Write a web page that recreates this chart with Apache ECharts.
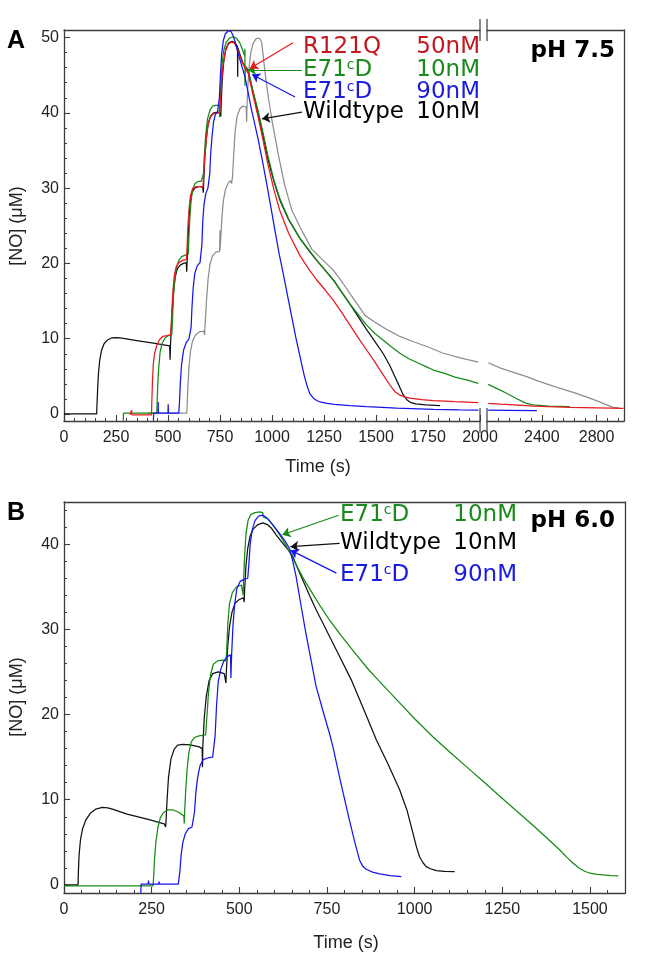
<!DOCTYPE html>
<html><head><meta charset="utf-8">
<script src="https://cdn.jsdelivr.net/npm/echarts@6/dist/echarts.min.js"></script>
<style>html,body{margin:0;padding:0;background:#fff}#c{width:654px;height:958px}</style>
</head><body><div id="c"></div>
<script>
// ---------------- DATA: panel A (pH 7.5) [time s, NO µM] ----------------
const aBlack = [[0,0],[157,0],[159,1.5],[162,3.5],[166,5.5],[172,7.2],[180,8.4],[192,9.3],[208,9.8],[228,10.1],[250,10.15],[270,10.1],[350,9.75],[430,9.4],[508,9.05],[510,7.2],[512,9.2],[516,11.5],[521,14],[527,16.3],[535,18.2],[545,19.3],[560,19.8],[575,20],[588,20.1],[590,18.9],[592,20.3],[596,23],[601,26],[607,28.2],[615,29.4],[628,30],[645,30.2],[666,30.2],[670,29.4],[672,31],[677,34],[684,36.6],[693,38.6],[705,39.6],[720,40],[740,40.1],[752,40],[754,39.5],[756,41.5],[761,44.5],[768,46.8],[778,48.5],[792,49.3],[808,49.5],[822,49.3],[834,48.8],[835,44.8],[836,48.6],[848,47.6],[862,46.5],[878,45.9],[886,45.5],[905,43.2],[933,40],[955,37.2],[981,33.8],[1010,30.8],[1038,28.4],[1080,25.8],[1135,23.3],[1180,21.6],[1215,20.4],[1255,19.1],[1295,17.8],[1335,16.2],[1375,14.6],[1415,12.9],[1455,11.2],[1495,9.6],[1535,8.0],[1565,6.5],[1590,5.0],[1612,3.7],[1630,2.6],[1648,1.9],[1665,1.55],[1690,1.35],[1740,1.2],[1808,1.1]];
const aRed = [[317,-0.1],[325,-0.1],[325,0.5],[326,-0.1],[421,-0.1],[422,1.5],[425,4],[429,6.5],[435,8],[446,9.1],[460,9.9],[475,10.3],[495,10.4],[512,10.5],[515,11.5],[519,14],[524,16.5],[531,18.5],[540,19.6],[552,20.1],[570,20.4],[588,20.5],[591,21.5],[595,24.5],[601,27.2],[608,29],[618,29.9],[635,30.2],[655,30.2],[668,30.1],[671,31.5],[676,34],[683,36.2],[692,38.3],[703,39.4],[718,39.9],[738,40],[748,40],[752,41.5],[758,44.3],[766,46.6],[776,48.2],[790,49.1],[805,49.4],[818,49.3],[830,48.7],[845,47.6],[858,46.6],[870,46],[886,45.2],[905,42.8],[933,39.5],[955,36.6],[981,33.1],[1010,29.7],[1038,27],[1080,24],[1135,21],[1180,19.1],[1215,17.8],[1255,16.5],[1295,15.1],[1335,13.5],[1375,11.8],[1415,10.1],[1455,8.5],[1495,6.9],[1530,5.4],[1567,3.85],[1590,3.0],[1615,2.5],[1640,2.25],[1663,2.1],[1720,1.9],[1776,1.77],[1880,1.63],[1992,1.5],[2009,1.42],[2100,1.3],[2200,1.2],[2339,1.06],[2450,0.98],[2609,0.89],[2800,0.82],[2996,0.76]];
const aGreen = [[285,-0.9],[286,0.1],[446,0.1],[448,1.8],[451,4],[455,6],[462,8.2],[472,9.4],[486,10.1],[500,10.4],[518,10.5],[521,12],[525,15],[531,17.6],[540,19.3],[552,20.4],[566,20.9],[582,21.1],[597,21.2],[600,23],[604,25.5],[610,28],[618,29.8],[630,30.6],[646,30.9],[660,30.9],[668,30.8],[671,32],[675,34.5],[681,37],[690,39.2],[702,40.4],[715,40.9],[730,41],[747,41],[748,39.4],[750,41],[754,43.5],[760,46.5],[768,48.3],[780,49.4],[795,49.9],[814,50.1],[830,49.9],[845,49.3],[858,48.4],[868,47.6],[870,48.5],[870,43.6],[872,46.2],[886,45.7],[905,43.3],[933,40.3],[955,37.6],[981,34.2],[1010,31],[1038,28.6],[1080,25.9],[1135,23.3],[1180,21.7],[1215,20.4],[1255,19.1],[1295,17.8],[1335,16.2],[1375,14.6],[1415,13.2],[1455,11.8],[1495,10.7],[1535,9.8],[1575,8.9],[1615,8.06],[1660,7.3],[1700,6.8],[1740,6.3],[1776,5.84],[1830,5.4],[1880,4.9],[1940,4.5],[1992,4.07],[2009,3.94],[2070,3.4],[2143,2.75],[2210,2.1],[2260,1.65],[2288,1.42],[2337,1.2],[2450,1.05],[2604,0.97]];
const aBlue = [[430,-0.9],[431,0.1],[452,0.1],[453,1.6],[454,0.1],[500,0.1],[501,1.3],[502,0.1],[552,0.1],[555,1.5],[559,4],[565,6.5],[575,8.5],[588,9.5],[600,9.9],[608,10],[611,11.5],[615,14],[621,16.7],[629,18.7],[641,19.7],[654,20.1],[660,20.1],[663,22.5],[667,25.5],[673,27.8],[682,29.3],[692,30],[698,30.1],[701,32],[705,34.5],[711,36.6],[719,38.8],[728,39.8],[738,40.1],[744,40.2],[747,42],[752,45],[758,47.8],[766,49.6],[776,50.5],[790,50.9],[803,50.8],[814,50.2],[825,49.2],[840,47.6],[855,46.2],[870,44.8],[885,42.7],[900,40.6],[918,38.4],[934,36.4],[955,33.5],[975,30.5],[995,27.4],[1014,24.4],[1035,21.2],[1055,18.5],[1075,15.7],[1095,12.9],[1115,10.1],[1135,7.6],[1155,5.1],[1170,3.6],[1182,2.7],[1199,2.1],[1215,1.8],[1231,1.6],[1265,1.4],[1300,1.27],[1375,1.1],[1455,0.97],[1600,0.78],[1776,0.62],[1900,0.56],[1992,0.53],[2009,0.5],[2150,0.47],[2364,0.44]];
const aGray = [[400,0.1],[590,0.1],[592,1.2],[596,3.8],[601,6.3],[608,8.3],[618,9.7],[632,10.5],[650,10.9],[672,11],[676,10.5],[677,11.3],[681,13],[686,15.5],[693,18],[702,19.9],[714,21],[730,21.5],[748,21.6],[750,24.4],[750,21.8],[754,23.5],[759,26],[766,28.3],[776,29.8],[790,30.7],[800,31],[806,30.6],[810,31.5],[815,34],[822,37.3],[832,39.5],[845,40.5],[860,40.9],[876,40.8],[878,38.8],[880,41],[884,43.5],[890,46],[898,48],[910,49.3],[925,49.9],[940,49.9],[950,49.4],[958,47.5],[966,45.5],[982,42.1],[1000,39],[1030,34.5],[1060,30.5],[1095,27.1],[1135,24.8],[1191,21.9],[1250,20.3],[1295,19.1],[1340,17.4],[1395,15.2],[1447,13.1],[1500,12.1],[1560,11.1],[1615,10.3],[1680,9.6],[1751,8.9],[1820,8.1],[1900,7.5],[1992,6.9],[2009,6.8],[2100,6.1],[2216,5.4],[2300,4.9],[2385,4.3],[2500,3.6],[2652,2.75],[2780,1.9],[2919,0.89],[2960,0.85]];

// ---------------- DATA: panel B (pH 6.0) ----------------
const bBlack = [[0,0],[40,0],[41,1.5],[43,3.5],[47,5.3],[53,6.6],[62,7.6],[75,8.4],[91,8.9],[109,9.1],[125,9.05],[138,8.9],[180,8.3],[240,7.7],[286,7.16],[290,6.8],[291,7.5],[294,10],[298,12.6],[305,14.8],[314,15.9],[324,16.4],[340,16.5],[360,16.45],[386,16.2],[394,16.0],[395,13.8],[396,16.4],[400,19.6],[406,22.2],[414,24],[424,24.8],[440,25],[457,24.8],[461,24.6],[462,23.7],[463,25],[467,28],[472,30.3],[479,32],[488,33.1],[500,33.5],[512,33.7],[514,33.2],[515,34.5],[519,37.5],[524,39.5],[531,41],[540,41.8],[553,42.3],[567,42.5],[580,42.3],[591,41.9],[605,41.1],[624,40.1],[640,39.3],[652,38.6],[666,37.2],[681,35.8],[700,34],[719,32.3],[740,30.6],[757,29.2],[790,26.5],[819,24.1],[855,20.6],[891,17],[925,14.1],[957,11.2],[978,8.8],[995,6.1],[1005,4.5],[1014,3.3],[1024,2.6],[1033,2.15],[1045,1.9],[1062,1.68],[1085,1.6],[1114,1.56]];
const bGreen = [[0,-0.1],[254,-0.1],[256,1.2],[258,3],[262,5],[268,6.8],[275,7.9],[284,8.5],[296,8.8],[312,8.8],[328,8.5],[342,8.1],[343,7.2],[344,8.5],[347,11],[351,13.5],[356,15.5],[363,16.8],[372,17.3],[385,17.5],[404,17.6],[406,17.6],[408,20],[412,22.5],[418,24.7],[426,25.9],[438,26.3],[452,26.4],[462,26.3],[464,27.5],[467,30.5],[472,33],[480,34.3],[492,35],[506,35.2],[510,35.2],[511,34],[512,35.5],[515,38.5],[519,41.2],[525,42.8],[533,43.5],[545,43.7],[558,43.8],[567,43.7],[568,43.2],[580,43],[595,42.3],[610,41.4],[624,40.5],[643,39.1],[662,37.6],[685,35.8],[709,34.2],[733,32.6],[757,31.1],[790,29.3],[830,27.2],[870,25.2],[895,24.1],[950,21.7],[1000,19.5],[1052,17.4],[1100,15.6],[1150,13.8],[1200,12],[1243,10.4],[1290,8.7],[1335,7.1],[1375,5.6],[1414,4.1],[1435,3.2],[1452,2.55],[1470,1.95],[1485,1.6],[1500,1.37],[1520,1.25],[1538,1.17],[1560,1.1],[1581,1.06]];
const bBlue = [[219,-0.95],[220,0.1],[240,0.1],[241,0.5],[242,0.1],[270,0.1],[271,0.4],[272,0.1],[326,0.1],[329,0.1],[331,1.8],[334,3.5],[339,5],[346,6],[355,6.6],[365,6.8],[370,6.9],[372,8.5],[376,10.8],[381,12.6],[388,14],[397,14.7],[410,14.9],[424,15],[429,15],[431,17.5],[435,21],[440,23.9],[447,25.3],[455,26.2],[465,26.8],[475,27],[476,24.3],[478,27],[482,30.5],[487,33],[493,34.8],[502,35.6],[514,35.9],[524,36],[527,37.5],[531,40],[537,41.7],[545,42.8],[555,43.3],[567,43.4],[575,43.2],[581,43.0],[595,42.3],[614,41.3],[630,40.4],[643,39.5],[652,38.1],[662,36.2],[676,32.8],[690,29.5],[705,26.3],[719,23.3],[738,20.5],[757,17.8],[767,16.2],[790,11.9],[814,7.6],[830,4.9],[843,2.9],[852,2.2],[862,1.84],[880,1.5],[900,1.3],[930,1.1],[962,0.97]];

// ---------------- axes ticks / labels ----------------
const xTicksA1 = [0,250,500,750,1000,1250,1500,1750,2000];
const xTicksA2 = [2400,2800];
const yTicksA = [0,10,20,30,40,50];
const xTicksB = [0,250,500,750,1000,1250,1500];
const yTicksB = [0,10,20,30,40];

// ---------------- annotation texts and arrows ----------------
const namesA = ['R121Q','E71{s|c}D','E71{s|c}D','Wildtype'];
const concA = ['50nM','10nM','90nM','10nM'];
const namesB = ['E71{s|c}D','Wildtype','E71{s|c}D'];
const concB = ['10nM','10nM','90nM'];
// arrows [x from, y from, x to, y to] in data units
const arrowRedA = [1101,49.3,894,45.9];
const arrowGreenA = [1144,45.7,885,45.7];
const arrowBlueA = [1111,42.1,904,45.1];
const arrowBlackA = [1144,40.1,952,39.2];
const arrowGreenB = [783,43.4,623,41.1];
const arrowBlackB = [786,40.1,646,39.7];
const arrowBlueB = [777,36.6,646,39.3];

// ---------------- styling ----------------
const C = {red:'#e8191e', green:'#158a15', blue:'#1515f0', black:'#111', gray:'#8e8e8e'};
const TXT = {red:'#c3161d', green:'#1a8a1a', blue:'#1a1ae0', black:'#000'};
const AX = '#3c3c3c';
const FA = '"Liberation Sans", Arial, Helvetica, sans-serif';
const FL = '"DejaVu Sans", Verdana, sans-serif';

function minors(lo, hi, step, majors) {
  const out = [];
  for (let v = lo; v <= hi + 1e-9; v += step) {
    const r = Math.round(v * 1000) / 1000;
    if (!majors.some(m => Math.abs(m - r) < 1e-6)) out.push(r);
  }
  return out;
}
const seg1 = d => d.filter(p => p[0] <= 2000);
const seg2 = d => d.filter(p => p[0] >= 2000);
const fmt = v => String(v);

const lineOnly = (extra) => Object.assign({
  type: 'value', axisLine: {show: true, onZero: false, lineStyle: {color: AX, width: 1.3}},
  axisTick: {show: false}, axisLabel: {show: false}, splitLine: {show: false}
}, extra);
const mainX = (extra, ticks, labels) => Object.assign({
  type: 'value', position: 'bottom',
  axisLine: {show: true, onZero: false, lineStyle: {color: AX, width: 1.3}},
  axisTick: {show: true, inside: true, length: 6, customValues: ticks, lineStyle: {color: AX, width: 1.1}},
  axisLabel: {show: true, customValues: labels, formatter: fmt, margin: 9, color: '#222', fontSize: 16, fontFamily: FA},
  splitLine: {show: false}
}, extra);
const mainY = (extra, ticks) => Object.assign({
  type: 'value', position: 'left',
  axisLine: {show: true, onZero: false, lineStyle: {color: AX, width: 1.3}},
  axisTick: {show: true, inside: true, length: 6, customValues: ticks, lineStyle: {color: AX, width: 1.1}},
  axisLabel: {show: true, customValues: ticks, formatter: fmt, margin: 5, color: '#222', fontSize: 16, fontFamily: FA},
  splitLine: {show: false}
}, extra);
const minorAx = (extra, vals) => Object.assign({
  type: 'value', axisLine: {show: false, onZero: false},
  axisTick: {show: true, inside: true, length: 3, customValues: vals, lineStyle: {color: AX, width: 1}},
  axisLabel: {show: false}, splitLine: {show: false}
}, extra);

const gA1 = {left: 64, top: 30, width: 416, height: 391};
const gA2 = {left: 487, top: 30, width: 137, height: 391};
const gB = {left: 64, top: 502, width: 561, height: 391};

const yA = {min: -0.93, max: 51.0};
const yB = {min: -0.95, max: 44.95};

const grids = [gA1, gA2, gB, gA1, gA2, gB];

const xAxis = [
  mainX({gridIndex: 0, min: 0, max: 2000}, xTicksA1, xTicksA1),
  lineOnly({gridIndex: 0, position: 'top', min: 0, max: 2000}),
  mainX({gridIndex: 1, min: 2000, max: 3000}, xTicksA2, xTicksA2),
  lineOnly({gridIndex: 1, position: 'top', min: 2000, max: 3000}),
  mainX({gridIndex: 2, min: 0, max: 1600}, xTicksB, xTicksB),
  lineOnly({gridIndex: 2, position: 'top', min: 0, max: 1600}),
  minorAx({gridIndex: 3, position: 'bottom', min: 0, max: 2000}, minors(50, 1950, 50, xTicksA1)),
  minorAx({gridIndex: 4, position: 'bottom', min: 2000, max: 3000}, minors(2080, 2960, 80, xTicksA2)),
  minorAx({gridIndex: 5, position: 'bottom', min: 0, max: 1600}, minors(50, 1550, 50, xTicksB))
];
const yAxis = [
  mainY(Object.assign({gridIndex: 0}, yA), yTicksA),
  lineOnly(Object.assign({gridIndex: 1, position: 'right'}, yA)),
  mainY(Object.assign({gridIndex: 2}, yB), yTicksB),
  lineOnly(Object.assign({gridIndex: 2, position: 'right'}, yB)),
  minorAx(Object.assign({gridIndex: 3, position: 'left'}, yA), minors(2, 50, 2, yTicksA)),
  minorAx(Object.assign({gridIndex: 4, position: 'left', show: false}, yA), []),
  minorAx(Object.assign({gridIndex: 5, position: 'left'}, yB), minors(2, 44, 2, yTicksB))
];

function arrowML(a, color) {
  return {
    silent: true, animation: false, symbol: ['none', 'arrow'], symbolSize: 8,
    label: {show: false}, emphasis: {disabled: true},
    lineStyle: {color: color, width: 1.2, type: 'solid'},
    data: [[{coord: [a[0], a[1]]}, {coord: [a[2], a[3]]}]]
  };
}
function ln(name, data, color, xi, yi, ml) {
  const s = {type: 'line', name: name, data: data, xAxisIndex: xi, yAxisIndex: yi,
    showSymbol: false, symbol: 'none', smooth: false, silent: true, animation: false,
    lineStyle: {color: color, width: 1.25}, itemStyle: {color: color}, emphasis: {disabled: true}};
  if (ml) s.markLine = ml;
  return s;
}
const series = [
  ln('A gray', seg1(aGray), C.gray, 0, 0), ln('A gray', seg2(aGray), C.gray, 2, 1),
  ln('A Wildtype 10nM', seg1(aBlack), C.black, 0, 0, arrowML(arrowBlackA, C.black)),
  ln('A E71cD 10nM', seg1(aGreen), C.green, 0, 0, arrowML(arrowGreenA, C.green)), ln('A E71cD 10nM', seg2(aGreen), C.green, 2, 1),
  ln('A R121Q 50nM', seg1(aRed), C.red, 0, 0, arrowML(arrowRedA, C.red)), ln('A R121Q 50nM', seg2(aRed), C.red, 2, 1),
  ln('A E71cD 90nM', seg1(aBlue), C.blue, 0, 0, arrowML(arrowBlueA, C.blue)), ln('A E71cD 90nM', seg2(aBlue), C.blue, 2, 1),
  ln('B Wildtype 10nM', bBlack, C.black, 4, 2, arrowML(arrowBlackB, C.black)),
  ln('B E71cD 10nM', bGreen, C.green, 4, 2, arrowML(arrowGreenB, C.green)),
  ln('B E71cD 90nM', bBlue, C.blue, 4, 2, arrowML(arrowBlueB, C.blue))
];

function legText(txt, x, y, color, align) {
  return {type: 'text', x: x, y: y, silent: true, z: 100,
    style: {text: '{a|' + txt.replace(/\{s\|c\}/g, '}{s|c}{a|') + '}', fill: color,
      align: align, textAlign: align, verticalAlign: 'middle', textVerticalAlign: 'middle',
      rich: {a: {fontSize: 23, fontFamily: FL, lineHeight: 24, fill: color},
             s: {fontSize: 14, fontFamily: FL, lineHeight: 11, verticalAlign: 'top', fill: color}}}};
}
function plain(txt, x, y, font, color, align, rot) {
  return {type: 'text', x: x, y: y, rotation: rot || 0, silent: true, z: 100,
    style: {text: txt, fill: color, font: font, align: align || 'center', textAlign: align || 'center',
      verticalAlign: 'middle', textVerticalAlign: 'middle'}};
}
const colsA = [TXT.red, TXT.green, TXT.blue, TXT.black];
const rowsA = [47, 70, 92, 112];
const colsB = [TXT.green, TXT.black, TXT.blue];
const rowsB = [515, 543, 575];
const graphic = [];
namesA.forEach((n, i) => { graphic.push(legText(n, 303, rowsA[i], colsA[i], 'left')); graphic.push(legText(concA[i], 480, rowsA[i], colsA[i], 'right')); });
namesB.forEach((n, i) => { graphic.push(legText(n, 340, rowsB[i], colsB[i], 'left')); graphic.push(legText(concB[i], 517, rowsB[i], colsB[i], 'right')); });
graphic.push(plain('pH 7.5', 615, 51, 'bold 23px ' + FL, '#000', 'right'));
graphic.push(plain('pH 6.0', 615, 521, 'bold 23px ' + FL, '#000', 'right'));
graphic.push(plain('A', 16, 41, 'bold 25px ' + FA, '#000'));
graphic.push(plain('B', 16, 513, 'bold 25px ' + FA, '#000'));
graphic.push(plain('Time (s)', 318, 467, '18px ' + FA, '#222'));
graphic.push(plain('Time (s)', 346, 943, '18px ' + FA, '#222'));
graphic.push(plain('[NO] (μM)', 17, 226, '18px ' + FA, '#222', 'center', Math.PI / 2));
graphic.push(plain('[NO] (μM)', 17, 697, '18px ' + FA, '#222', 'center', Math.PI / 2));
// axis break marks
[[480, 19, 480, 41], [487, 19, 487, 41], [480, 408, 480, 433], [487, 408, 487, 433]].forEach(s => {
  graphic.push({type: 'line', silent: true, z: 100, shape: {x1: s[0], y1: s[1], x2: s[2], y2: s[3]}, style: {stroke: AX, lineWidth: 1.2}});
});

const chart = echarts.init(document.getElementById('c'), null, {renderer: 'canvas'});
chart.setOption({
  animation: false, backgroundColor: '#fff',
  grid: grids.map(g => Object.assign({show: false, containLabel: false}, g)),
  xAxis: xAxis, yAxis: yAxis, series: series, graphic: graphic
});
</script></body></html>
